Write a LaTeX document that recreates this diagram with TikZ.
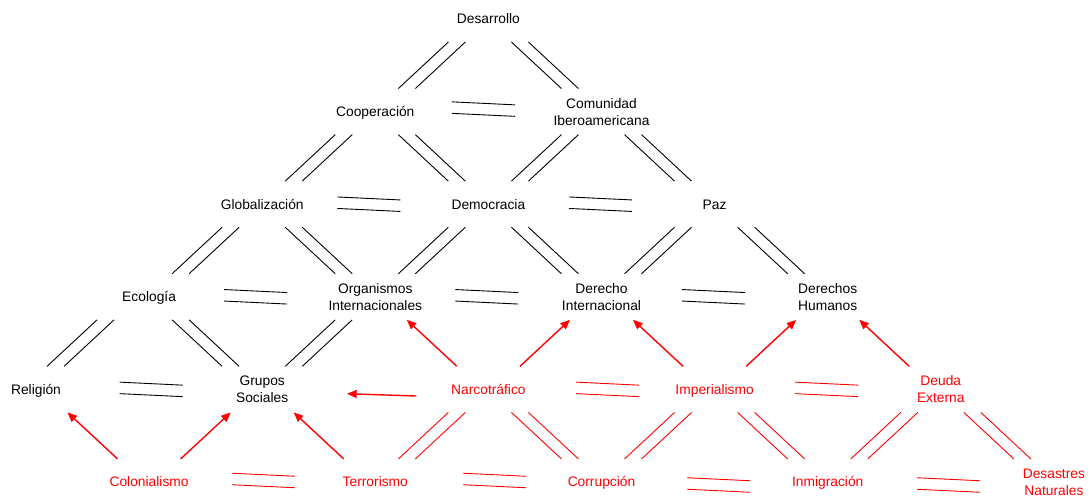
\documentclass[tikz,border=0pt]{standalone}
\usepackage{fontspec}
\setmainfont{Liberation Sans}
\usetikzlibrary{calc,arrows.meta}
\begin{document}
\begin{tikzpicture}[x=1pt,y=1pt,
  every node/.style={inner sep=0pt, font=\fontsize{13.8}{17}\selectfont},
  term/.style={text height=10pt, text depth=0pt},
  term2/.style={align=center},
  risk/.style={text=red},
  pairline/.style={line width=0.9pt, line cap=butt},
  % two parallel slanted strokes centred between two nodes (optional x shift)
  diag/.style={pairline, to path={
    let \p1=($(\tikztostart)!.5!(\tikztotarget)+(#1pt,0)$),
        \p2=($(\tikztotarget)-(\tikztostart)$),
        \n1={sign(\x2)*sign(\y2)} in
    (\x1-33.5pt,{\y1-(\n1)*23.25pt}) -- (\x1+16.5pt,{\y1+(\n1)*23.25pt})
    (\x1-16.5pt,{\y1-(\n1)*23.25pt}) -- (\x1+33.5pt,{\y1+(\n1)*23.25pt})}},
  diag/.default=0,
  % two parallel near-horizontal strokes between two nodes of one row
  flat/.style 2 args={pairline, to path={
    let \p1=($(\tikztostart)!.5!(\tikztotarget)+(#1pt,#2pt)$) in
    (\x1-31.5pt,\y1+7.25pt) -- (\x1+31.5pt,\y1+4.25pt)
    (\x1-31.5pt,\y1-4.25pt) -- (\x1+31.5pt,\y1-7.25pt)}},
  % red influence arrow, centred between the two nodes
  cause/.style={red, line width=1.4pt, -{Triangle[length=9.5pt,width=8pt]}},
  causediag/.style={cause, to path={
    let \p1=($(\tikztostart)!.5!(\tikztotarget)$),
        \p2=($(\tikztotarget)-(\tikztostart)$),
        \n1={sign(\x2)}, \n2={sign(\y2)} in
    ({\x1-(\n1)*25pt},{\y1-(\n2)*23.25pt}) -- ({\x1+(\n1)*25pt},{\y1+(\n2)*23.25pt})}},
]
\useasboundingbox (0,0) rectangle (1088,498);

% row 0
\node[term] (des) at (488.4,479) {Desarrollo};
% row 1
\node[term] (coop) at (375.3,386.4) {Cooperación};
\node[term2] (com) at (601.5,386.4) {Comunidad\\Iberoamericana};
% row 2
\node[term] (glob) at (262.2,293.8) {Globalización};
\node[term] (dem) at (488.4,293.8) {Democracia};
\node[term] (paz) at (714.6,293.8) {Paz};
% row 3
\node[term] (eco) at (149.1,201.2) {Ecología};
\node[term2] (org) at (375.3,201.2) {Organismos\\Internacionales};
\node[term2] (dint) at (601.5,201.2) {Derecho\\Internacional};
\node[term2] (dhum) at (827.7,201.2) {Derechos\\Humanos};
% row 4
\node[term] (rel) at (36,108.6) {Religión};
\node[term2] (gru) at (262.2,108.6) {Grupos\\Sociales};
\node[term,risk] (nar) at (488.4,108.6) {Narcotráfico};
\node[term,risk] (imp) at (714.6,108.6) {Imperialismo};
\node[term2,risk] (deu) at (940.8,108.6) {Deuda\\Externa};
% row 5
\node[term,risk] (col) at (149.1,16) {Colonialismo};
\node[term,risk] (ter) at (375.3,16) {Terrorismo};
\node[term,risk] (cor) at (601.5,16) {Corrupción};
\node[term,risk] (inm) at (827.7,16) {Inmigración};
\node[term2,risk] (dnat) at (1053.9,16) {Desastres\\Naturales};

% black equivalences
\draw[flat={-5}{2.5}] (coop) to (com);
\draw[flat={-6.5}{0}] (glob) to (dem);
\draw[flat={-1}{0}] (dem) to (paz);
\draw[flat={-6.5}{0}] (eco) to (org);
\draw[flat={-1.5}{0}] (org) to (dint);
\draw[flat={-1}{0}] (dint) to (dhum);
\draw[flat={2}{0}] (rel) to (gru);

\draw[diag] (des) to (coop);
\draw[diag] (des) to (com);
\draw[diag] (coop) to (glob);
\draw[diag] (coop) to (dem);
\draw[diag] (com) to (dem);
\draw[diag] (com) to (paz);
\draw[diag] (glob) to (eco);
\draw[diag] (glob) to (org);
\draw[diag] (dem) to (org);
\draw[diag] (dem) to (dint);
\draw[diag] (paz) to (dint);
\draw[diag] (paz) to (dhum);
\draw[diag=-12] (eco) to (rel);
\draw[diag] (eco) to (gru);
\draw[diag] (org) to (gru);

% red equivalences
\draw[red, flat={1.5}{1.5}] (col) to (ter);
\draw[red, flat={6.3}{1.5}] (ter) to (cor);
\draw[red, flat={4}{-3}] (cor) to (inm);
\draw[red, flat={7.5}{-3}] (inm) to (dnat);
\draw[red, flat={6}{0}] (nar) to (imp);
\draw[red, flat={-1}{0}] (imp) to (deu);

\draw[red, diag] (nar) to (ter);
\draw[red, diag] (nar) to (cor);
\draw[red, diag] (imp) to (cor);
\draw[red, diag] (imp) to (inm);
\draw[red, diag] (deu) to (inm);
\draw[red, diag] (deu) to (dnat);

% influence arrows
\draw[causediag] (col) to (rel);
\draw[causediag] (col) to (gru);
\draw[causediag] (ter) to (gru);
\draw[cause, shorten <=72pt, shorten >=85pt] ([yshift=-9pt]nar.center) -- ([yshift=-1.5pt]gru.center);
\draw[causediag] (nar) to (org);
\draw[causediag] (nar) to (dint);
\draw[causediag] (imp) to (dint);
\draw[causediag] (imp) to (dhum);
\draw[causediag] (deu) to (dhum);
\end{tikzpicture}
\end{document}
